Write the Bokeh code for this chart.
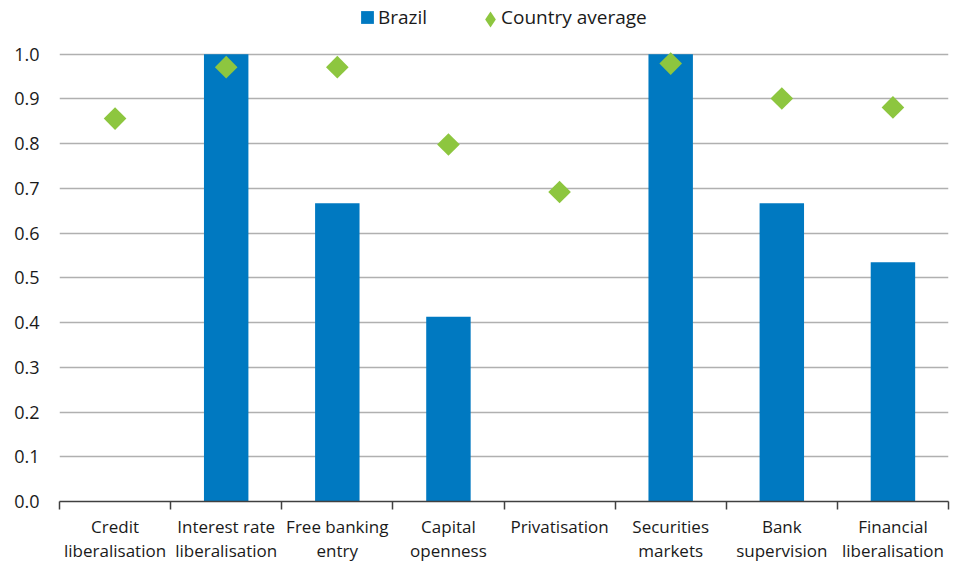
from bokeh.plotting import figure
from bokeh.models import ColumnDataSource, FixedTicker, Legend, LegendItem, Range1d
from bokeh.embed import file_html
from bokeh.resources import INLINE
import math

categories = ["Credit\nliberalisation", "Interest rate\nliberalisation", "Free banking\nentry",
              "Capital\nopenness", "Privatisation", "Securities\nmarkets",
              "Bank\nsupervision", "Financial\nliberalisation"]
brazil = [0.0, 1.0, 0.667, 0.413, 0.0, 1.0, 0.667, 0.535]
country_average = [0.856, 0.971, 0.971, 0.798, 0.692, 0.979, 0.901, 0.881]
y_ticks = [0.0, 0.1, 0.2, 0.3, 0.4, 0.5, 0.6, 0.7, 0.8, 0.9, 1.0]
series_names = ["Brazil", "Country average"]

BLUE = "#0079C1"
GREEN = "#8DC63F"
FONT = "Open Sans"

W, H = 950, 564
FRAME_TOP, FRAME_BOTTOM = 54, 504
# extend the y-range above 1.0 so the legend can sit inside the frame area
y_top = 1.0 * FRAME_BOTTOM / (FRAME_BOTTOM - FRAME_TOP)

xc = [i + 0.5 for i in range(len(categories))]
src = ColumnDataSource(dict(x=xc, brazil=brazil, avg=country_average))

p = figure(width=W, height=H, output_backend="svg", toolbar_location=None,
           x_range=Range1d(0, len(categories)), y_range=Range1d(0, y_top),
           min_border_left=59, min_border_right=W - 948, min_border_top=0,
           min_border_bottom=H - FRAME_BOTTOM)
p.outline_line_color = None
p.background_fill_color = "white"
p.border_fill_color = "white"

bars = p.vbar(x="x", top="brazil", width=0.4, source=src, fill_color=BLUE, line_color=None)
# legend swatches: zero-size markers (the legend sizes them from its glyph box)
leg_sq = p.scatter(x="x", y="brazil", source=src, marker="square", size=0,
                   fill_color=BLUE, line_color=None)
leg_dm = p.scatter(x="x", y="avg", source=src, marker="diamond", size=0,
                   fill_color=GREEN, line_color=None)
leg_none = p.scatter(x="x", y="avg", source=src, marker="square", size=0,
                     fill_alpha=0, line_color=None)
pts = p.scatter(x="x", y="avg", source=src, marker="square", size=16, angle=math.pi / 4,
                fill_color=GREEN, line_color=None)

# x axis
xa = p.xaxis[0]
xa.ticker = FixedTicker(ticks=xc, minor_ticks=list(range(len(categories) + 1)))
xa.major_label_overrides = {x: c for x, c in zip(xc, categories)}
xa.major_tick_line_color = None
xa.major_tick_out = 0
xa.major_tick_in = 0
xa.minor_tick_out = 8
xa.minor_tick_in = 0
xa.minor_tick_line_color = "#404040"
xa.minor_tick_line_width = 1.5
xa.axis_line_color = "#404040"
xa.axis_line_width = 1.5
xa.major_label_standoff = 5
xa.major_label_text_font = FONT
xa.major_label_text_font_size = "17px"
xa.major_label_text_color = "#1a1a1a"
xa.major_label_text_line_height = 1.05

# y axis
ya = p.yaxis[0]
ya.ticker = FixedTicker(ticks=y_ticks)
ya.major_label_overrides = {t: f"{t:.1f}" for t in y_ticks}
ya.axis_line_color = None
ya.major_tick_line_color = None
ya.minor_tick_line_color = None
ya.major_tick_out = 0
ya.major_tick_in = 0
ya.major_label_standoff = 20
ya.major_label_text_font = FONT
ya.major_label_text_font_size = "18px"
ya.major_label_text_color = "#1a1a1a"

p.xgrid.grid_line_color = None
p.ygrid.ticker = FixedTicker(ticks=y_ticks)
p.ygrid.grid_line_color = "#b0b0b0"
p.ygrid.grid_line_width = 1.5

common = dict(orientation="horizontal", padding=0, margin=0, border_line_color=None,
              background_fill_alpha=0, label_text_font=FONT, label_text_font_size="19px",
              label_text_color="#1a1a1a", label_standoff=0)
# swatches
sw1 = Legend(items=[LegendItem(label=" ", renderers=[leg_sq])],
             location=(292, 468), glyph_width=32, glyph_height=32, **common)
sw2 = Legend(items=[LegendItem(label=" ", renderers=[leg_dm])],
             location=(411, 462), glyph_width=40, glyph_height=40, **common)
# labels
lb1 = Legend(items=[LegendItem(label=series_names[0], renderers=[leg_none])],
             location=(318, 469), glyph_width=1, glyph_height=30, label_height=30, **common)
lb2 = Legend(items=[LegendItem(label=series_names[1], renderers=[leg_none])],
             location=(441, 469), glyph_width=1, glyph_height=30, label_height=30, **common)
for lg in (sw1, sw2, lb1, lb2):
    p.add_layout(lg, "center")

open("out.html", "w").write(file_html(p, INLINE))
